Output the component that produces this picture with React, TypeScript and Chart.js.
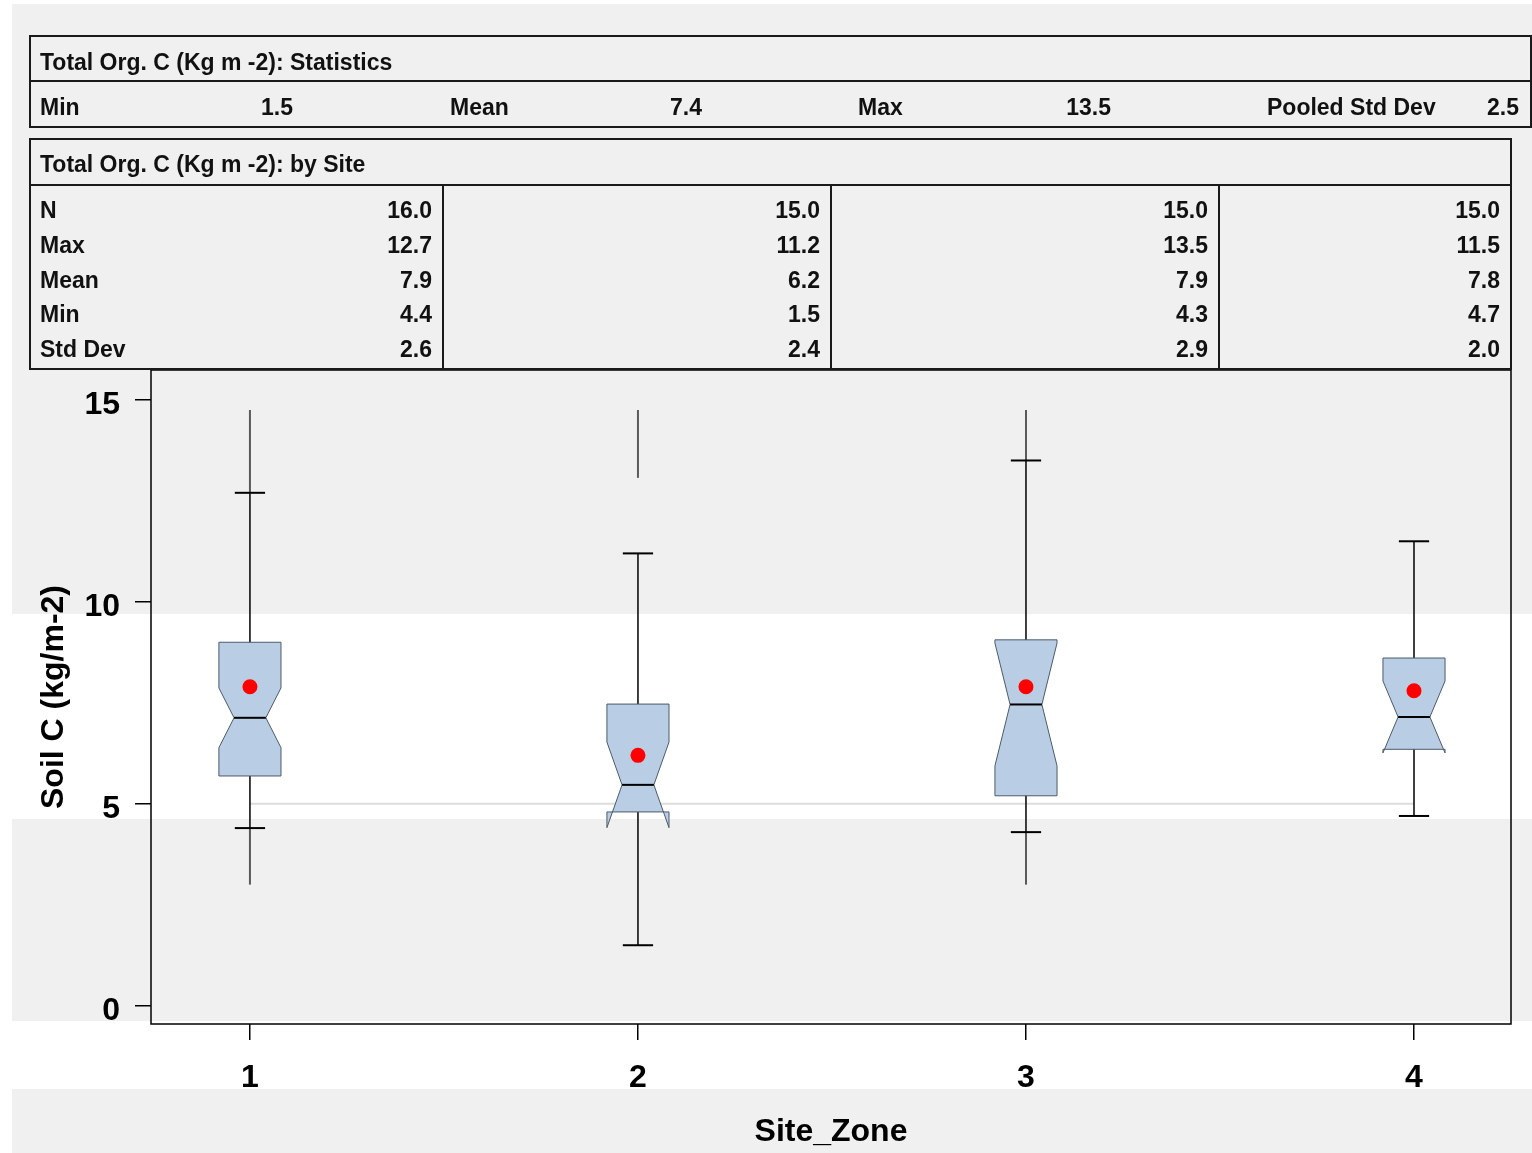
import React, { useEffect, useRef } from 'react';
import { Chart, registerables } from 'chart.js';
Chart.register(...registerables);

// ---------- data ----------
const sites = ['1', '2', '3', '4'];
const siteX = [1, 2, 3, 4];
const q1 = [5.69, 4.8, 5.2, 6.35];
const q3 = [9.0, 7.47, 9.06, 8.61];
const medians = [7.13, 5.47, 7.46, 7.15];
const notchLo = [6.39, 4.41, 5.94, 6.26];
const notchHi = [7.87, 6.53, 8.98, 8.04];
const whiskerLo = [4.4, 1.5, 4.3, 4.7];
const whiskerHi = [12.7, 11.2, 13.5, 11.5];
const means = [7.9, 6.2, 7.9, 7.8];
// faint traces visible along the whiskers in the picture
const traceSegments: number[][][] = [
  [[12.7, 14.75], [3.0, 4.4]],
  [[13.07, 14.75]],
  [[13.5, 14.75], [3.0, 4.3]],
  [],
];
const yTicks = [0, 5, 10, 15];

const statsTitle = 'Total Org. C (Kg m -2): Statistics';
const statsLabels = ['Min', 'Mean', 'Max', 'Pooled Std Dev'];
const statsValues = ['1.5', '7.4', '13.5', '2.5'];

const siteTitle = 'Total Org. C (Kg m -2): by Site';
const rowLabels = ['N', 'Max', 'Mean', 'Min', 'Std Dev'];
const siteN = ['16.0', '15.0', '15.0', '15.0'];
const siteMax = ['12.7', '11.2', '13.5', '11.5'];
const siteMean = ['7.9', '6.2', '7.9', '7.8'];
const siteMin = ['4.4', '1.5', '4.3', '4.7'];
const siteSD = ['2.6', '2.4', '2.9', '2.0'];

// ---------- layout / style ----------
const W = 1532;
const H = 1153;
const FONT = '"Liberation Sans", Arial, sans-serif';
const GRAY = '#f0f0f0';
const BOX_HALF = 0.08;
const NOTCH_HALF = 0.041;
const CAP_HALF = 0.039;

const bgPlugin = {
  id: 'bg',
  beforeDraw(chart: any) {
    const ctx = chart.ctx;
    ctx.save();
    ctx.fillStyle = GRAY;
    ctx.fillRect(0, 0, W, H);
    ctx.fillStyle = '#ffffff';
    ctx.fillRect(0, 0, 12, H);
    ctx.fillRect(0, 0, W, 4);
    ctx.fillRect(12, 614, W, 205);
    ctx.fillRect(12, 1021, W, 68);
    ctx.restore();
  },
};

const boxPlugin = {
  id: 'boxes',
  beforeDatasetsDraw(chart: any) {
    const { ctx, scales } = chart;
    const xs = scales.x;
    const ys = scales.y;
    const px = (v: number) => xs.getPixelForValue(v);
    const py = (v: number) => ys.getPixelForValue(v);
    ctx.save();
    // faint line at 5 in the white band
    ctx.strokeStyle = '#dddddd';
    ctx.lineWidth = 2;
    ctx.beginPath();
    ctx.moveTo(px(siteX[0]), py(5));
    ctx.lineTo(px(siteX[3]), py(5));
    ctx.stroke();

    siteX.forEach((sx, i) => {
      const C = px(sx);
      const L = px(sx - BOX_HALF);
      const R = px(sx + BOX_HALF);
      const IL = px(sx - NOTCH_HALF);
      const IR = px(sx + NOTCH_HALF);
      // traces
      ctx.strokeStyle = '#5a5a5a';
      ctx.lineWidth = 2;
      traceSegments[i].forEach(([a, b]) => {
        ctx.beginPath();
        ctx.moveTo(C, py(a));
        ctx.lineTo(C, py(b));
        ctx.stroke();
      });
      // whisker
      ctx.strokeStyle = '#000';
      ctx.lineWidth = 1.5;
      ctx.beginPath();
      ctx.moveTo(C, py(whiskerLo[i]));
      ctx.lineTo(C, py(whiskerHi[i]));
      ctx.stroke();
      // caps
      ctx.lineWidth = 2;
      [whiskerLo[i], whiskerHi[i]].forEach((v) => {
        ctx.beginPath();
        ctx.moveTo(px(sx - CAP_HALF), py(v));
        ctx.lineTo(px(sx + CAP_HALF), py(v));
        ctx.stroke();
      });
      // notched box
      ctx.beginPath();
      ctx.moveTo(L, py(q1[i]));
      ctx.lineTo(L, py(notchLo[i]));
      ctx.lineTo(IL, py(medians[i]));
      ctx.lineTo(L, py(notchHi[i]));
      ctx.lineTo(L, py(q3[i]));
      ctx.lineTo(R, py(q3[i]));
      ctx.lineTo(R, py(notchHi[i]));
      ctx.lineTo(IR, py(medians[i]));
      ctx.lineTo(R, py(notchLo[i]));
      ctx.lineTo(R, py(q1[i]));
      ctx.closePath();
      ctx.fillStyle = '#b9cde5';
      ctx.fill();
      ctx.strokeStyle = '#4d5a68';
      ctx.lineWidth = 1;
      ctx.stroke();
      // median
      ctx.strokeStyle = '#000';
      ctx.lineWidth = 2;
      ctx.beginPath();
      ctx.moveTo(IL, py(medians[i]));
      ctx.lineTo(IR, py(medians[i]));
      ctx.stroke();
    });
    // plot frame
    const a = chart.chartArea;
    ctx.strokeStyle = '#000';
    ctx.lineWidth = 1.5;
    ctx.strokeRect(a.left, a.top, a.right - a.left, a.bottom - a.top);
    ctx.restore();
  },
};

function T(props: { x: number; y: number; right?: boolean; children: React.ReactNode }) {
  const style: React.CSSProperties = {
    position: 'absolute',
    top: props.y - 14,
    height: 28,
    lineHeight: '28px',
    fontFamily: FONT,
    fontWeight: 'bold',
    fontSize: 23,
    color: '#111',
    whiteSpace: 'nowrap',
  };
  if (props.right) style.right = W - props.x;
  else style.left = props.x;
  return <div style={style}>{props.children}</div>;
}

function Rect(props: { x: number; y: number; w: number; h: number }) {
  return (
    <div
      style={{
        position: 'absolute',
        left: props.x,
        top: props.y,
        width: props.w,
        height: props.h,
        border: '2px solid #1a1a1a',
        boxSizing: 'border-box',
      }}
    />
  );
}

function Line(props: { x: number; y: number; w: number; h: number }) {
  return (
    <div
      style={{
        position: 'absolute',
        left: props.x,
        top: props.y,
        width: props.w,
        height: props.h,
        background: '#1a1a1a',
      }}
    />
  );
}

const statsLabelX = [40, 450, 858, 1267];
const statsValueRight = [293, 702, 1111, 1519];
const colValueRight = [432, 820, 1208, 1500];
const rowY = [210, 245, 280, 314, 349];

export default function App() {
  const ref = useRef<HTMLCanvasElement>(null);
  useEffect(() => {
    const tickFont = { family: FONT, weight: 'bold' as const, size: 32 };
    const chart = new Chart(ref.current as HTMLCanvasElement, {
      type: 'scatter',
      data: {
        datasets: [
          {
            data: siteX.map((x, i) => ({ x, y: means[i] })),
            pointRadius: 7.5,
            pointBackgroundColor: '#ff0000',
            pointBorderColor: '#ff0000',
            pointBorderWidth: 0,
          },
        ],
      },
      options: {
        responsive: false,
        animation: false,
        layout: { padding: { left: 0, top: 370, right: 21, bottom: 0 } },
        plugins: { legend: { display: false }, tooltip: { enabled: false } },
        scales: {
          x: {
            type: 'linear',
            min: 0.745,
            max: 4.25,
            afterBuildTicks: (s: any) => {
              s.ticks = siteX.map((v) => ({ value: v }));
            },
            afterFit: (s: any) => {
              s.height = 129;
            },
            ticks: {
              font: tickFont,
              color: '#000',
              padding: 19,
              callback: (v: any) => sites[siteX.indexOf(Number(v))] ?? '',
            },
            grid: { display: true, drawOnChartArea: false, drawTicks: true, tickLength: 16, color: '#000', lineWidth: 1.5 },
            border: { display: false },
            title: { display: true, text: 'Site_Zone', font: tickFont, color: '#000', padding: { top: 0, bottom: 2 } },
          },
          y: {
            type: 'linear',
            min: -0.45,
            max: 15.74,
            afterBuildTicks: (s: any) => {
              s.ticks = yTicks.map((v) => ({ value: v }));
            },
            afterFit: (s: any) => {
              s.width = 151;
            },
            ticks: { font: tickFont, color: '#000', padding: 15, labelOffset: 5 },
            grid: { display: true, drawOnChartArea: false, drawTicks: true, tickLength: 16, color: '#000', lineWidth: 1.5 },
            border: { display: false },
            title: { display: true, text: 'Soil C (kg/m-2)', font: tickFont, color: '#000', padding: { top: 35, bottom: 0 } },
          },
        },
      },
      plugins: [bgPlugin, boxPlugin],
    });
    return () => chart.destroy();
  }, []);

  const siteCols = [siteN, siteMax, siteMean, siteMin, siteSD];

  return (
    <div style={{ position: 'fixed', left: 0, top: 0, width: W, height: H, overflow: 'hidden' }}>
      <canvas ref={ref} width={W} height={H} style={{ position: 'absolute', left: 0, top: 0, width: W, height: H, display: 'block' }} />
      {/* statistics table */}
      <Rect x={29} y={35} w={1503} h={93} />
      <Line x={29} y={80} w={1503} h={2} />
      <T x={40} y={62}>{statsTitle}</T>
      {statsLabels.map((l, i) => (
        <T key={'sl' + i} x={statsLabelX[i]} y={107}>{l}</T>
      ))}
      {statsValues.map((v, i) => (
        <T key={'sv' + i} x={statsValueRight[i]} y={107} right>{v}</T>
      ))}
      {/* by site table */}
      <Rect x={29} y={138} w={1483} h={232} />
      <Line x={29} y={184} w={1483} h={2} />
      <Line x={442} y={184} w={2} h={186} />
      <Line x={830} y={184} w={2} h={186} />
      <Line x={1218} y={184} w={2} h={186} />
      <T x={40} y={164}>{siteTitle}</T>
      {rowLabels.map((l, r) => (
        <T key={'rl' + r} x={40} y={rowY[r]}>{l}</T>
      ))}
      {siteCols.map((col, r) =>
        col.map((v, c) => (
          <T key={'v' + r + '_' + c} x={colValueRight[c]} y={rowY[r]} right>{v}</T>
        ))
      )}
    </div>
  );
}
